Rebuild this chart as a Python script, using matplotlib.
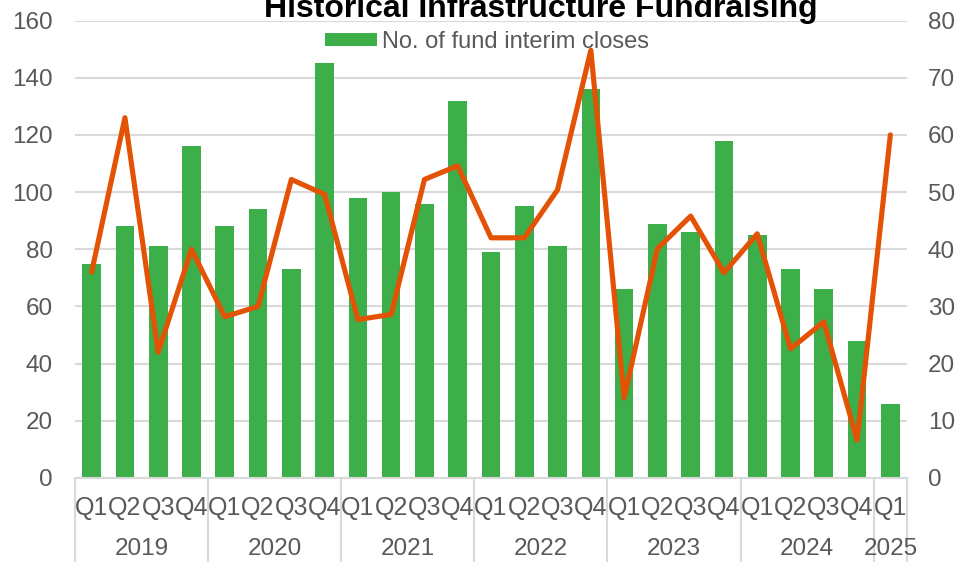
import matplotlib
matplotlib.use('Agg')
import matplotlib.pyplot as plt
from matplotlib.transforms import blended_transform_factory
from matplotlib.lines import Line2D

plt.rcParams['font.family'] = ['Liberation Sans', 'DejaVu Sans']

# data
years = ['2019', '2020', '2021', '2022', '2023', '2024', '2025']
quarters = ['Q1', 'Q2', 'Q3', 'Q4'] * 6 + ['Q1']
interim_closes = [75, 88, 81, 116, 88, 94, 73, 145, 98, 100, 96, 132,
                  79, 95, 81, 136, 66, 89, 86, 118, 85, 73, 66, 48, 26]
line_series = [36, 63, 22, 40, 28.2, 30, 52.2, 49.6, 27.7, 28.6, 52.2, 54.6,
               42, 42, 50.4, 74.8, 14, 40.1, 45.8, 35.9, 42.7, 22.6, 27.3, 6.6, 60]

grey = '#595959'
grid = '#d9d9d9'
fs = 17.5

fig = plt.figure(figsize=(9.69, 5.62), dpi=100)
ax = fig.add_axes([75/969, 1-478/562, (907-75)/969, (478-20.5)/562])
ax2 = ax.twinx()

x = list(range(len(interim_closes)))
bars = ax.bar(x, interim_closes, width=0.56, color='#3cae4a', zorder=2,
              label='No. of fund interim closes')
ax2.plot(x, line_series, color='#e35205', lw=3.7, solid_joinstyle='round',
         solid_capstyle='round', zorder=3)

ax.set_xlim(-0.5, len(x) - 0.5)
ax.set_ylim(0, 160)
ax2.set_ylim(0, 80)
ax.set_yticks(range(0, 161, 20))
ax2.set_yticks(range(0, 81, 10))
ax.yaxis.grid(True, color=grid, lw=1.5, zorder=0)
ax.set_axisbelow(True)
ax.set_xticks([])

for a in (ax, ax2):
    for s in a.spines.values():
        s.set_visible(False)
    a.tick_params(axis='y', length=0, labelsize=fs, labelcolor=grey)
ax.tick_params(axis='y', pad=16)
ax2.tick_params(axis='y', pad=15)
ax.spines['bottom'].set_visible(True)
ax.spines['bottom'].set_color(grid)
ax.spines['bottom'].set_linewidth(1.5)

# two-level category axis
trans = blended_transform_factory(ax.transData, ax.transAxes)
h = 478 - 20.5
for i, q in enumerate(quarters):
    ax.text(i, -30/h, q, transform=trans, ha='center', va='center',
            fontsize=18, color=grey)
bounds = [-0.5, 3.5, 7.5, 11.5, 15.5, 19.5, 23.5, 24.5]
for k, yr in enumerate(years):
    c = (bounds[k] + bounds[k+1]) / 2
    ax.text(c, -71/h, yr, transform=trans, ha='center', va='center',
            fontsize=fs, color=grey)
for b in bounds:
    ax.add_line(Line2D([b, b], [0, -90/h], transform=trans, color=grid,
                       lw=1.5, clip_on=False))

# title sits partly above the top edge, as in the reference
fig.text(541/969, 1-17/562, 'Historical Infrastructure Fundraising',
         ha='center', va='baseline', fontsize=23, fontweight='bold', color='black')

ax.legend(handles=[bars], loc='center left', bbox_to_anchor=(325/969, 1-42/562),
          bbox_transform=fig.transFigure, frameon=False, fontsize=17,
          labelcolor=grey, handlelength=2.2, handleheight=0.5, handletextpad=0.2,
          borderpad=0, borderaxespad=0)

fig.savefig('out.png', dpi=100)
